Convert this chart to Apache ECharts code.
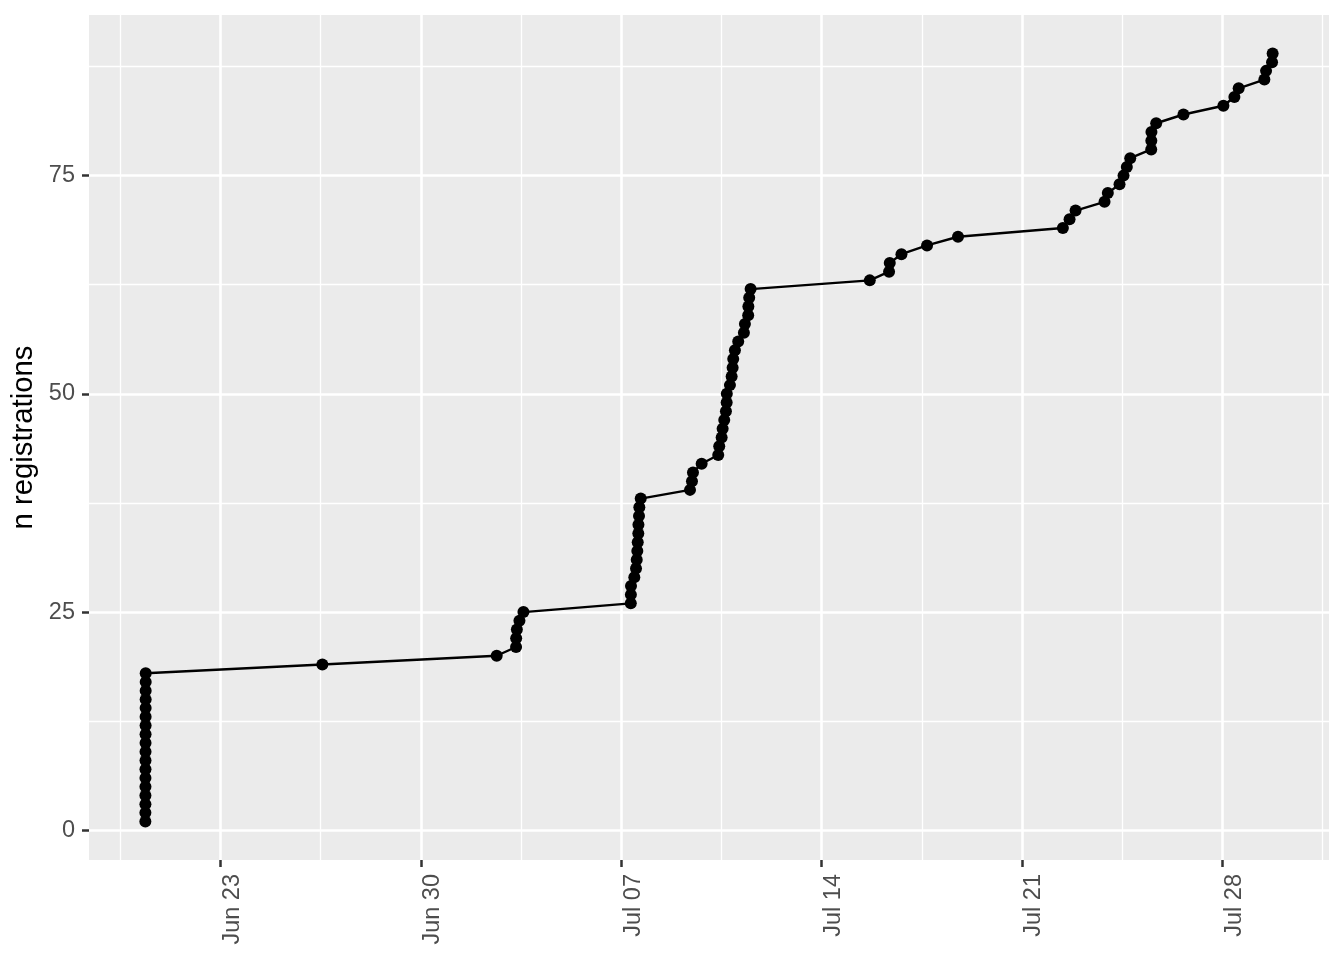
<!DOCTYPE html>
<html><head><meta charset="utf-8">
<script src="https://cdn.jsdelivr.net/npm/echarts@6/dist/echarts.min.js"></script>
<style>html,body{margin:0;padding:0;background:#fff}#c{width:1344px;height:960px}</style>
</head><body><div id="c"></div>
<script>
const regTimes = [
  '2022-06-20T09:02','2022-06-20T09:03','2022-06-20T09:04','2022-06-20T09:05','2022-06-20T09:06',
  '2022-06-20T09:07','2022-06-20T09:08','2022-06-20T09:09','2022-06-20T09:10','2022-06-20T09:11',
  '2022-06-20T09:12','2022-06-20T09:13','2022-06-20T09:14','2022-06-20T09:15','2022-06-20T09:16',
  '2022-06-20T09:17','2022-06-20T09:18','2022-06-20T09:19',
  '2022-06-26T13:25','2022-07-02T15:35',
  '2022-07-03T07:50','2022-07-03T07:55','2022-07-03T08:30','2022-07-03T10:39','2022-07-03T14:00',
  '2022-07-07T08:00','2022-07-07T08:05','2022-07-07T08:10','2022-07-07T10:58','2022-07-07T12:23',
  '2022-07-07T12:59','2022-07-07T13:29','2022-07-07T13:49','2022-07-07T14:19','2022-07-07T14:25',
  '2022-07-07T14:54','2022-07-07T15:10','2022-07-07T16:20',
  '2022-07-09T09:38','2022-07-09T11:18','2022-07-09T12:09','2022-07-09T19:25',
  '2022-07-10T09:19','2022-07-10T10:09','2022-07-10T12:10','2022-07-10T13:00','2022-07-10T14:21',
  '2022-07-10T15:46','2022-07-10T16:22','2022-07-10T16:30','2022-07-10T19:08','2022-07-10T20:33',
  '2022-07-10T21:23','2022-07-10T21:53','2022-07-10T23:18',
  '2022-07-11T02:04','2022-07-11T06:50','2022-07-11T07:41','2022-07-11T10:26','2022-07-11T10:35',
  '2022-07-11T11:17','2022-07-11T12:27',
  '2022-07-15T16:22','2022-07-16T08:32','2022-07-16T09:07','2022-07-16T18:55','2022-07-17T16:22',
  '2022-07-18T18:20',
  '2022-07-22T10:15','2022-07-22T15:52','2022-07-22T20:54','2022-07-23T21:11','2022-07-23T23:57',
  '2022-07-24T09:45','2022-07-24T13:06','2022-07-24T15:52','2022-07-24T18:43',
  '2022-07-25T12:19','2022-07-25T12:25','2022-07-25T12:30','2022-07-25T16:29','2022-07-26T15:21',
  '2022-07-28T00:50','2022-07-28T10:03','2022-07-28T13:39',
  '2022-07-29T11:11','2022-07-29T12:36','2022-07-29T17:37','2022-07-29T18:07'
];
const regCounts = [
  1,2,3,4,5,6,7,8,9,10,11,12,13,14,15,16,17,18,
  19,20,21,22,23,24,25,26,27,28,29,30,31,32,33,34,35,36,37,38,
  39,40,41,42,43,44,45,46,47,48,49,50,51,52,53,54,55,56,57,58,59,60,61,62,
  63,64,65,66,67,68,69,70,71,72,73,74,75,76,77,78,79,80,81,82,83,84,85,86,87,88,89
];
const xTickDates = ['2022-06-23T00:00','2022-06-30T00:00','2022-07-07T00:00','2022-07-14T00:00','2022-07-21T00:00','2022-07-28T00:00'];
const xTickLabels = ['Jun 23','Jun 30','Jul 07','Jul 14','Jul 21','Jul 28'];
const xMinorDates = ['2022-06-19T12:00','2022-06-26T12:00','2022-07-03T12:00','2022-07-10T12:00','2022-07-17T12:00','2022-07-24T12:00','2022-07-31T12:00'];
const yTicks = [0,25,50,75];
const yTickLabels = ['0','25','50','75'];
const yMinorTicks = [12.5,37.5,62.5,87.5];
const yTitle = 'n registrations';

function ts(s){ return Date.parse(s + ':00Z'); }

const data = regTimes.map((t,i)=>[ts(t), regCounts[i]]);
const xs = data.map(d=>d[0]);
const xLo = Math.min.apply(null, xs), xHi = Math.max.apply(null, xs);
const xPad = (xHi - xLo) * 0.05;
const yLo = Math.min.apply(null, regCounts), yHi = Math.max.apply(null, regCounts);
const yPad = (yHi - yLo) * 0.05;
const xTickVals = xTickDates.map(ts);
const xMinorVals = xMinorDates.map(ts);
const FONT = 'Liberation Sans, Arial, Helvetica, sans-serif';

function nearestLabel(vals, labels, v){
  let bi = 0, bd = Infinity;
  vals.forEach((t,i)=>{ const d = Math.abs(t - v); if (d < bd){ bd = d; bi = i; } });
  return labels[bi];
}

const chart = echarts.init(document.getElementById('c'), null, {renderer:'canvas'});
chart.setOption({
  animation: false,
  backgroundColor: '#ffffff',
  grid: {left: 89, right: 15, top: 15, bottom: 100, show: true, backgroundColor: '#EBEBEB', borderWidth: 0, containLabel: false},
  xAxis: [
    {
      type: 'value', min: xLo - xPad, max: xHi + xPad, position: 'bottom',
      axisLine: {show: false, onZero: false},
      axisTick: {show: true, customValues: xTickVals, length: 7, lineStyle: {color: '#333333', width: 2.5}},
      axisLabel: {show: true, customValues: xTickVals, rotate: 90, fontSize: 23.5, color: '#4D4D4D', fontFamily: FONT,
        margin: 14, verticalAlign: 'top',
        formatter: v => nearestLabel(xTickVals, xTickLabels, v)},
      splitLine: {show: true, lineStyle: {color: '#ffffff', width: 2.6}}
    },
    {
      type: 'value', min: xLo - xPad, max: xHi + xPad, position: 'bottom',
      axisLine: {show: false, onZero: false},
      axisTick: {show: false, customValues: xMinorVals},
      axisLabel: {show: false, customValues: xMinorVals},
      splitLine: {show: true, lineStyle: {color: '#ffffff', width: 1.3}}
    }
  ],
  yAxis: [
    {
      type: 'value', min: yLo - yPad, max: yHi + yPad, position: 'left',
      name: yTitle, nameLocation: 'middle', nameRotate: 90, nameGap: 49,
      nameTextStyle: {fontSize: 29.3, color: '#000000', fontFamily: FONT},
      axisLine: {show: false, onZero: false},
      axisTick: {show: true, customValues: yTicks, length: 7, lineStyle: {color: '#333333', width: 2.5}},
      axisLabel: {show: true, customValues: yTicks, fontSize: 23.5, color: '#4D4D4D', fontFamily: FONT, margin: 14,
        formatter: v => nearestLabel(yTicks, yTickLabels, v)},
      splitLine: {show: true, lineStyle: {color: '#ffffff', width: 2.6}}
    },
    {
      type: 'value', min: yLo - yPad, max: yHi + yPad, position: 'left',
      axisLine: {show: false, onZero: false},
      axisTick: {show: false, customValues: yMinorTicks},
      axisLabel: {show: false, customValues: yMinorTicks},
      splitLine: {show: true, lineStyle: {color: '#ffffff', width: 1.3}}
    }
  ],
  series: [{
    type: 'line', xAxisIndex: 0, yAxisIndex: 0, data: data,
    symbol: 'circle', symbolSize: 12, showAllSymbol: true,
    itemStyle: {color: '#000000'},
    lineStyle: {color: '#000000', width: 2.4},
    z: 5
  }]
});
</script>
</body></html>
